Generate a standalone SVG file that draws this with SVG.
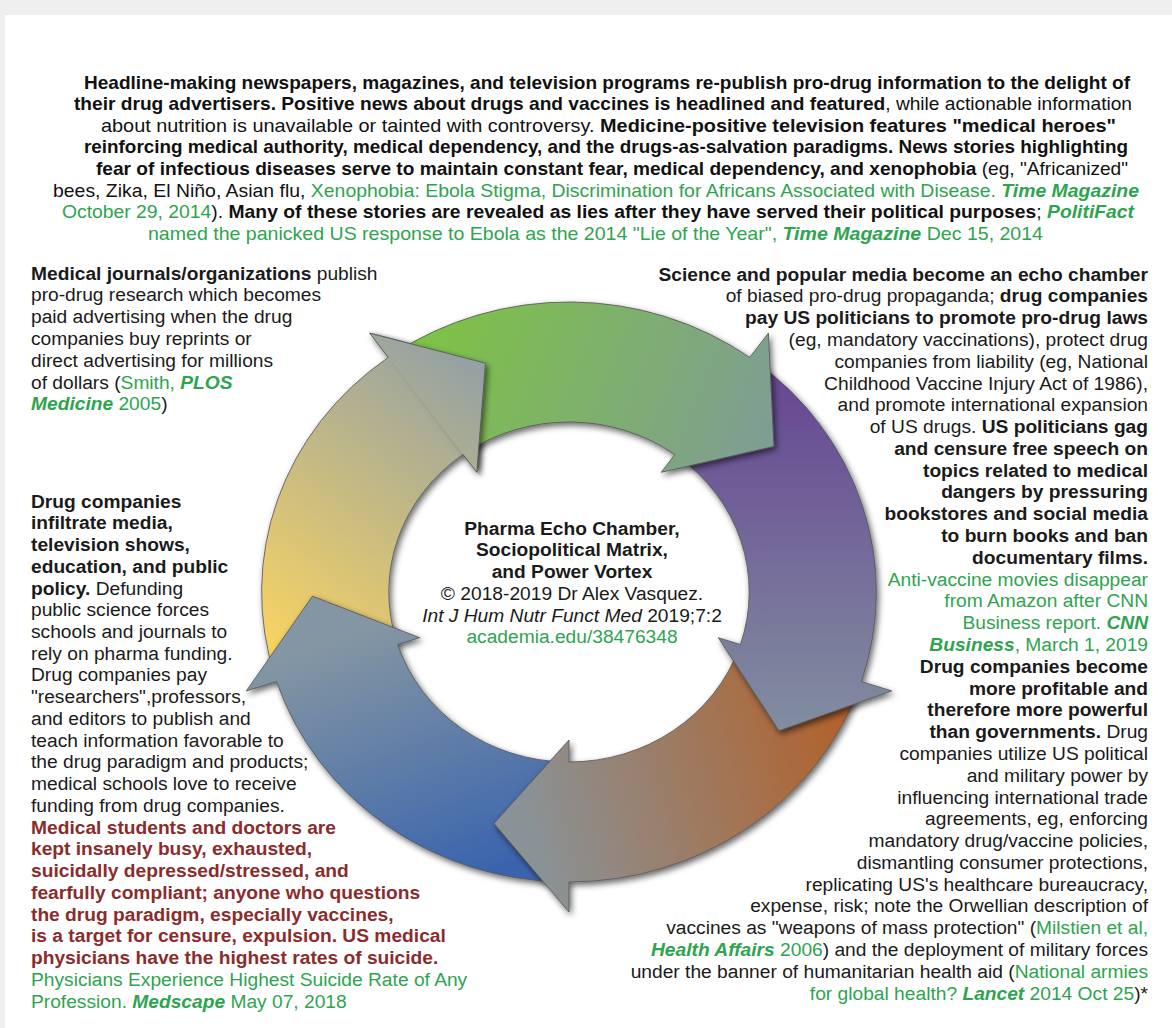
<svg xmlns="http://www.w3.org/2000/svg" xmlns:xlink="http://www.w3.org/1999/xlink" width="1172" height="1028" viewBox="0 0 1172 1028">
<defs>
<style>
.t{font-family:"Liberation Sans",Arial,sans-serif;font-size:19.2px;fill:#1a1a1a}
.hd{font-family:"Liberation Sans Narrow","Arial Narrow","Liberation Sans",Arial,sans-serif;font-size:18.6px;fill:#111}
.b{font-weight:bold}
.g{fill:#2ea44f}
.gi{fill:#2ea44f;font-weight:bold;font-style:italic}
.r{fill:#8b2c2c;font-weight:bold}
.i{font-style:italic}
.arr{stroke:#555;stroke-width:0.8;filter:url(#sh)}
</style>
<filter id="sh" x="-30%" y="-30%" width="160%" height="160%">
<feDropShadow dx="2" dy="3" stdDeviation="3" flood-color="#000" flood-opacity="0.6"/>
</filter>
<linearGradient id="gGreen" gradientUnits="userSpaceOnUse" x1="-160" y1="-260" x2="200" y2="-120">
<stop offset="0" stop-color="#7ec540"/><stop offset="1" stop-color="#7f9b99"/></linearGradient>
<linearGradient id="gPurple" gradientUnits="userSpaceOnUse" x1="200" y1="-200" x2="200" y2="150">
<stop offset="0" stop-color="#684a94"/><stop offset="1" stop-color="#8290a0"/></linearGradient>
<linearGradient id="gBrown" gradientUnits="userSpaceOnUse" x1="270" y1="150" x2="-40" y2="230">
<stop offset="0" stop-color="#b2612a"/><stop offset="1" stop-color="#8a9296"/></linearGradient>
<linearGradient id="gBlue" gradientUnits="userSpaceOnUse" x1="-100" y1="290" x2="-200" y2="40">
<stop offset="0" stop-color="#3a64ad"/><stop offset="1" stop-color="#8496a3"/></linearGradient>
<linearGradient id="gYellow" gradientUnits="userSpaceOnUse" x1="-290" y1="40" x2="-60" y2="-250">
<stop offset="0" stop-color="#f5d264"/><stop offset="1" stop-color="#8a9caa"/></linearGradient>
<clipPath id="cpY" clipPathUnits="userSpaceOnUse">
<polygon points="587.8,809 -587.8,-809 221.2,-1396.8 1396.8,221.2"/>
</clipPath>
</defs>
<rect width="1172" height="1028" fill="#efefef"/>
<rect x="5" y="15" width="1167" height="1013" fill="#ffffff"/>

<g id="cycle" transform="translate(569,592) scale(1.06,1)">
<g id="arrow-yellow"><path id="yp" class="arr" fill="url(#gYellow)" d="M-277.3,84.8 A290,290 0 0 1 -170.5,-234.6 L-188.1,-258.9 L-78.8,-228.8 L-87,-119.7 L-99.9,-137.5 A170,170 0 0 0 -162.6,49.7 Z"/></g>
<g id="arrow-blue"><path class="arr" fill="url(#gBlue)" d="M-5.1,290 A290,290 0 0 1 -275.8,89.6 L-304.4,98.9 L-242,4.2 L-140.8,45.7 L-161.7,52.5 A170,170 0 0 0 -3,170 Z"/></g>
<g id="arrow-brown"><path class="arr" fill="url(#gBrown)" d="M274.2,94.4 A290,290 0 0 1 0,290 L0,320 L-70.8,231.4 L0,148 L0,170 A170,170 0 0 0 160.7,55.4 Z"/></g>
<g id="arrow-purple"><path class="arr" fill="url(#gPurple)" d="M174.5,-231.6 A290,290 0 0 1 275.8,89.6 L304.4,98.9 L198.2,138.8 L140.8,45.7 L161.7,52.5 A170,170 0 0 0 102.3,-135.8 Z"/></g>
<g id="arrow-green"><path class="arr" fill="url(#gGreen)" d="M-166.3,-237.6 A290,290 0 0 1 170.5,-234.6 L188.1,-258.9 L193.3,-145.6 L87,-119.7 L99.9,-137.5 A170,170 0 0 0 -97.5,-139.3 Z"/></g>
<use href="#yp" xlink:href="#yp" clip-path="url(#cpY)"/>
</g>

<g id="header" class="hd">
<text x="84" y="88.5" textLength="1046" lengthAdjust="spacingAndGlyphs" class="b">Headline-making newspapers, magazines, and television programs re-publish pro-drug information to the delight of</text>
<text x="74" y="110.1" textLength="1058" lengthAdjust="spacingAndGlyphs"><tspan class="b">their drug advertisers. Positive news about drugs and vaccines is headlined and featured</tspan>, while actionable information</text>
<text x="101" y="131.7" textLength="1015" lengthAdjust="spacingAndGlyphs">about nutrition is unavailable or tainted with controversy. <tspan class="b">Medicine-positive television features "medical heroes"</tspan></text>
<text x="84" y="153.3" textLength="1044" lengthAdjust="spacingAndGlyphs" class="b">reinforcing medical authority, medical dependency, and the drugs-as-salvation paradigms. News stories highlighting</text>
<text x="96" y="174.9" textLength="1032" lengthAdjust="spacingAndGlyphs"><tspan class="b">fear of infectious diseases serve to maintain constant fear, medical dependency, and xenophobia</tspan> (eg, "Africanized"</text>
<text x="53" y="196.5" textLength="1086" lengthAdjust="spacingAndGlyphs">bees, Zika, El Ni&#241;o, Asian flu, <tspan class="g">Xenophobia: Ebola Stigma, Discrimination for Africans Associated with Disease. </tspan><tspan class="gi">Time Magazine</tspan></text>
<text x="62" y="218.1" textLength="1072" lengthAdjust="spacingAndGlyphs"><tspan class="g">October 29, 2014</tspan>). <tspan class="b">Many of these stories are revealed as lies after they have served their political purposes</tspan>; <tspan class="gi">PolitiFact</tspan></text>
<text x="148" y="239.7" textLength="895" lengthAdjust="spacingAndGlyphs"><tspan class="g">named the panicked US response to Ebola as the 2014 "Lie of the Year", </tspan><tspan class="gi">Time Magazine</tspan><tspan class="g">  Dec 15, 2014</tspan></text>
</g>

<g id="left-journals" class="t">
<text x="31" y="279.5"><tspan class="b">Medical journals/organizations</tspan> publish</text>
<text x="31" y="301.3">pro-drug research which becomes</text>
<text x="31" y="323.1">paid advertising when the drug</text>
<text x="31" y="344.9">companies buy reprints or</text>
<text x="31" y="366.7">direct advertising for millions</text>
<text x="31" y="388.5">of dollars (<tspan class="g">Smith, </tspan><tspan class="gi">PLOS</tspan></text>
<text x="31" y="410.3"><tspan class="gi">Medicine</tspan><tspan class="g"> 2005</tspan>)</text>
</g>

<g id="left-infiltrate" class="t">
<text x="31" y="507.5" class="b">Drug companies</text>
<text x="31" y="529.2" class="b">infiltrate media,</text>
<text x="31" y="551" class="b">television shows,</text>
<text x="31" y="572.7" class="b">education, and public</text>
<text x="31" y="594.5"><tspan class="b">policy.</tspan> Defunding</text>
<text x="31" y="616.2">public science forces</text>
<text x="31" y="637.9">schools and journals to</text>
<text x="31" y="659.7">rely on pharma funding.</text>
<text x="31" y="681.4">Drug companies pay</text>
<text x="31" y="703.2">"researchers",professors,</text>
<text x="31" y="724.9">and editors to publish and</text>
<text x="31" y="746.6">teach information favorable to</text>
<text x="31" y="768.4">the drug paradigm and products;</text>
<text x="31" y="790.1">medical schools love to receive</text>
<text x="31" y="811.9">funding from drug companies.</text>
<text x="31" y="833.6" class="r">Medical students and doctors are</text>
<text x="31" y="855.3" class="r">kept insanely busy, exhausted,</text>
<text x="31" y="877.1" class="r">suicidally depressed/stressed, and</text>
<text x="31" y="898.8" class="r">fearfully compliant; anyone who questions</text>
<text x="31" y="920.6" class="r">the drug paradigm, especially vaccines,</text>
<text x="31" y="942.3" class="r">is a target for censure, expulsion. US medical</text>
<text x="31" y="964" class="r">physicians have the highest rates of suicide.</text>
<text x="31" y="985.8" class="g">Physicians Experience Highest Suicide Rate of Any</text>
<text x="31" y="1007.5" class="g">Profession. <tspan class="gi">Medscape</tspan> May 07, 2018</text>
</g>

<g id="right-echo" class="t" text-anchor="end">
<text x="1148" y="280.5" class="b">Science and popular media become an echo chamber</text>
<text x="1148" y="302.3">of biased pro-drug propaganda; <tspan class="b">drug companies</tspan></text>
<text x="1148" y="324.1" class="b">pay US politicians to promote pro-drug laws</text>
<text x="1148" y="345.9">(eg, mandatory vaccinations), protect drug</text>
<text x="1148" y="367.7">companies from liability (eg, National</text>
<text x="1148" y="389.5">Childhood Vaccine Injury Act of 1986),</text>
<text x="1148" y="411.2">and promote international expansion</text>
<text x="1148" y="433">of US drugs. <tspan class="b">US politicians gag</tspan></text>
<text x="1148" y="454.8" class="b">and censure free speech on</text>
<text x="1148" y="476.6" class="b">topics related to medical</text>
<text x="1148" y="498.4" class="b">dangers by pressuring</text>
<text x="1148" y="520.2" class="b">bookstores and social media</text>
<text x="1148" y="542" class="b">to burn books and ban</text>
<text x="1148" y="563.8" class="b">documentary films.</text>
<text x="1148" y="585.6" class="g">Anti-vaccine movies disappear</text>
<text x="1148" y="607.4" class="g">from Amazon after CNN</text>
<text x="1148" y="629.1" class="g">Business report. <tspan class="gi">CNN</tspan></text>
<text x="1148" y="650.9" class="g"><tspan class="gi">Business</tspan>, March 1, 2019</text>
</g>

<g id="right-profit" class="t" text-anchor="end">
<text x="1148" y="672.7" class="b">Drug companies become</text>
<text x="1148" y="694.5" class="b">more profitable and</text>
<text x="1148" y="716.3" class="b">therefore more powerful</text>
<text x="1148" y="738.1"><tspan class="b">than governments.</tspan> Drug</text>
<text x="1148" y="759.9">companies utilize US political</text>
<text x="1148" y="781.7">and military power by</text>
<text x="1148" y="803.5">influencing international trade</text>
<text x="1148" y="825.3">agreements, eg, enforcing</text>
<text x="1148" y="847">mandatory drug/vaccine policies,</text>
<text x="1148" y="868.8">dismantling consumer protections,</text>
<text x="1148" y="890.6">replicating US's healthcare bureaucracy,</text>
<text x="1148" y="912.4">expense, risk; note the Orwellian description of</text>
<text x="1148" y="934.2">vaccines as "weapons of mass protection" (<tspan class="g">Milstien et al,</tspan></text>
<text x="1148" y="956"><tspan class="gi">Health Affairs</tspan><tspan class="g"> 2006</tspan>) and the deployment of military forces</text>
<text x="1148" y="977.8">under the banner of humanitarian health aid (<tspan class="g">National armies</tspan></text>
<text x="1148" y="999.6"><tspan class="g">for global health? </tspan><tspan class="gi">Lancet</tspan><tspan class="g"> 2014 Oct 25</tspan>)*</text>
</g>

<g id="center-title" class="t" text-anchor="middle">
<text x="572" y="534.5" class="b">Pharma Echo Chamber,</text>
<text x="572" y="556.3" class="b">Sociopolitical Matrix,</text>
<text x="572" y="578" class="b">and Power Vortex</text>
<text x="572" y="599.8">&#169; 2018-2019 Dr Alex Vasquez.</text>
<text x="572" y="621.6"><tspan class="i">Int J Hum Nutr Funct Med</tspan> 2019;7:2</text>
<text x="572" y="643.4" class="g">academia.edu/38476348</text>
</g>
</svg>
